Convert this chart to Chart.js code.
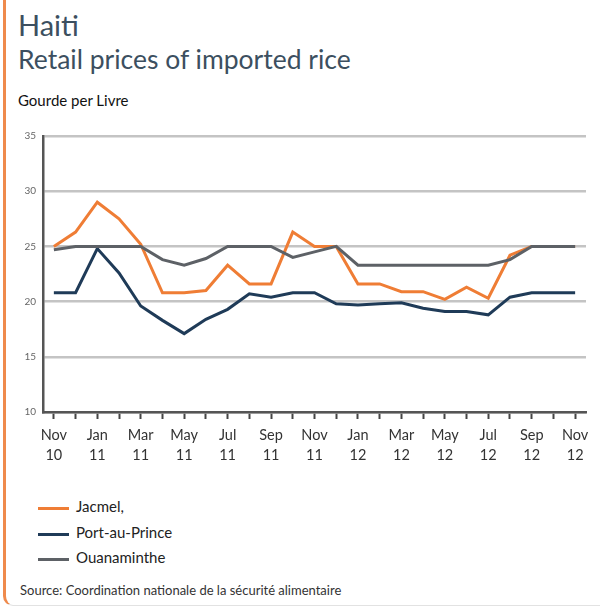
<!DOCTYPE html>
<html>
<head>
<meta charset="utf-8">
<script src="https://cdn.jsdelivr.net/npm/chart.js@4"></script>
<style>
  body { margin: 0; background: #fff; font-family: Lato, "Noto Sans", sans-serif; }
  #cadre {
    position: absolute; left: 3px; top: -4px; width: 600px; height: 610px;
    border-left: 3px solid #ef8a4c; border-bottom: 1px solid #e2e2e2;
    border-bottom-left-radius: 10px; box-sizing: border-box;
  }
  #titre { position: absolute; left: 18px; top: 7px; font-size: 29px; color: #3c4f60; }
  #soustitre { position: absolute; left: 18px; top: 43px; font-size: 26.5px; color: #3c4f60; }
  #unite { position: absolute; left: 18px; top: 91px; font-size: 15px; color: #111; }
  #zone { position: absolute; left: 15px; top: 123px; width: 580px; height: 350px; }
  .leg { position: absolute; left: 38px; font-size: 15px; color: #222; }
  .leg span { display: inline-block; width: 31px; height: 3px; margin-right: 7px; vertical-align: middle; }
  #source { position: absolute; left: 20px; top: 582px; font-size: 13px; color: #333; }
</style>
</head>
<body>
<div id="cadre"></div>
<div id="titre">Haiti</div>
<div id="soustitre">Retail prices of imported rice</div>
<div id="unite">Gourde per Livre</div>
<div id="zone"><canvas id="graphique"></canvas></div>
<div class="leg" style="top:497px"><span style="background:#ef7d35"></span>Jacmel,</div>
<div class="leg" style="top:523px"><span style="background:#1f3b58"></span>Port-au-Prince</div>
<div class="leg" style="top:548px"><span style="background:#5d6166"></span>Ouanaminthe</div>
<div id="source">Source: Coordination nationale de la sécurité alimentaire</div>
<script>
const mois = [
  'Nov 10', 'Dec 10', 'Jan 11', 'Feb 11', 'Mar 11', 'Apr 11', 'May 11', 'Jun 11', 'Jul 11',
  'Aug 11', 'Sep 11', 'Oct 11', 'Nov 11', 'Dec 11', 'Jan 12', 'Feb 12', 'Mar 12', 'Apr 12',
  'May 12', 'Jun 12', 'Jul 12', 'Aug 12', 'Sep 12', 'Oct 12', 'Nov 12'
];
const jacmel = [25.0, 26.3, 29.0, 27.5, 25.2, 20.8, 20.8, 21.0, 23.3, 21.6, 21.6, 26.3, 25.0,
  25.0, 21.6, 21.6, 20.9, 20.9, 20.2, 21.3, 20.3, 24.2, 25.0, 25.0, 25.0];
const portAuPrince = [20.8, 20.8, 24.8, 22.6, 19.6, 18.3, 17.1, 18.4, 19.3, 20.7, 20.4, 20.8, 20.8,
  19.8, 19.7, 19.8, 19.9, 19.4, 19.1, 19.1, 18.8, 20.4, 20.8, 20.8, 20.8];
const ouanaminthe = [24.7, 25.0, 25.0, 25.0, 25.0, 23.8, 23.3, 23.9, 25.0, 25.0, 25.0, 24.0, 24.5,
  25.0, 23.3, 23.3, 23.3, 23.3, 23.3, 23.3, 23.3, 23.8, 25.0, 25.0, 25.0];
const ticksY = [10, 15, 20, 25, 30, 35];

function serie(label, data, couleur, ordre) {
  return {
    label: label,
    data: data,
    borderColor: couleur,
    borderWidth: 3,
    pointRadius: 0,
    tension: 0,
    fill: false,
    order: ordre
  };
}

new Chart(document.getElementById('graphique'), {
  type: 'line',
  data: {
    labels: mois,
    datasets: [
      serie('Jacmel,', jacmel, '#ef7d35', 2),
      serie('Port-au-Prince', portAuPrince, '#1f3b58', 1),
      serie('Ouanaminthe', ouanaminthe, '#5d6166', 0)
    ]
  },
  options: {
    responsive: true,
    maintainAspectRatio: false,
    animation: false,
    layout: { padding: { top: 10, right: 9, bottom: 0, left: 0 } },
    plugins: {
      legend: { display: false },
      tooltip: { enabled: false }
    },
    scales: {
      x: {
        offset: true,
        afterFit: s => { s.height = 61; },
        border: { color: '#555', width: 2.5 },
        grid: {
          drawOnChartArea: false,
          tickLength: 7,
          tickColor: '#444',
          tickWidth: 2
        },
        ticks: {
          autoSkip: false,
          maxRotation: 0,
          padding: 6,
          color: '#333',
          font: { family: 'Lato', size: 14.5, lineHeight: 1.4 },
          callback: function (v, i) {
            return i % 2 === 0 ? mois[i].split(' ') : '';
          }
        }
      },
      y: {
        min: 10,
        max: 35,
        afterFit: s => { s.width = 28; },
        afterBuildTicks: s => { s.ticks = ticksY.map(v => ({ value: v })); },
        border: { color: '#555', width: 2.5 },
        grid: {
          drawTicks: false,
          color: '#c4c4c4',
          lineWidth: 2.5
        },
        ticks: {
          padding: 7,
          color: '#666',
          font: { family: 'Lato', size: 10 }
        }
      }
    }
  }
});
</script>
</body>
</html>
